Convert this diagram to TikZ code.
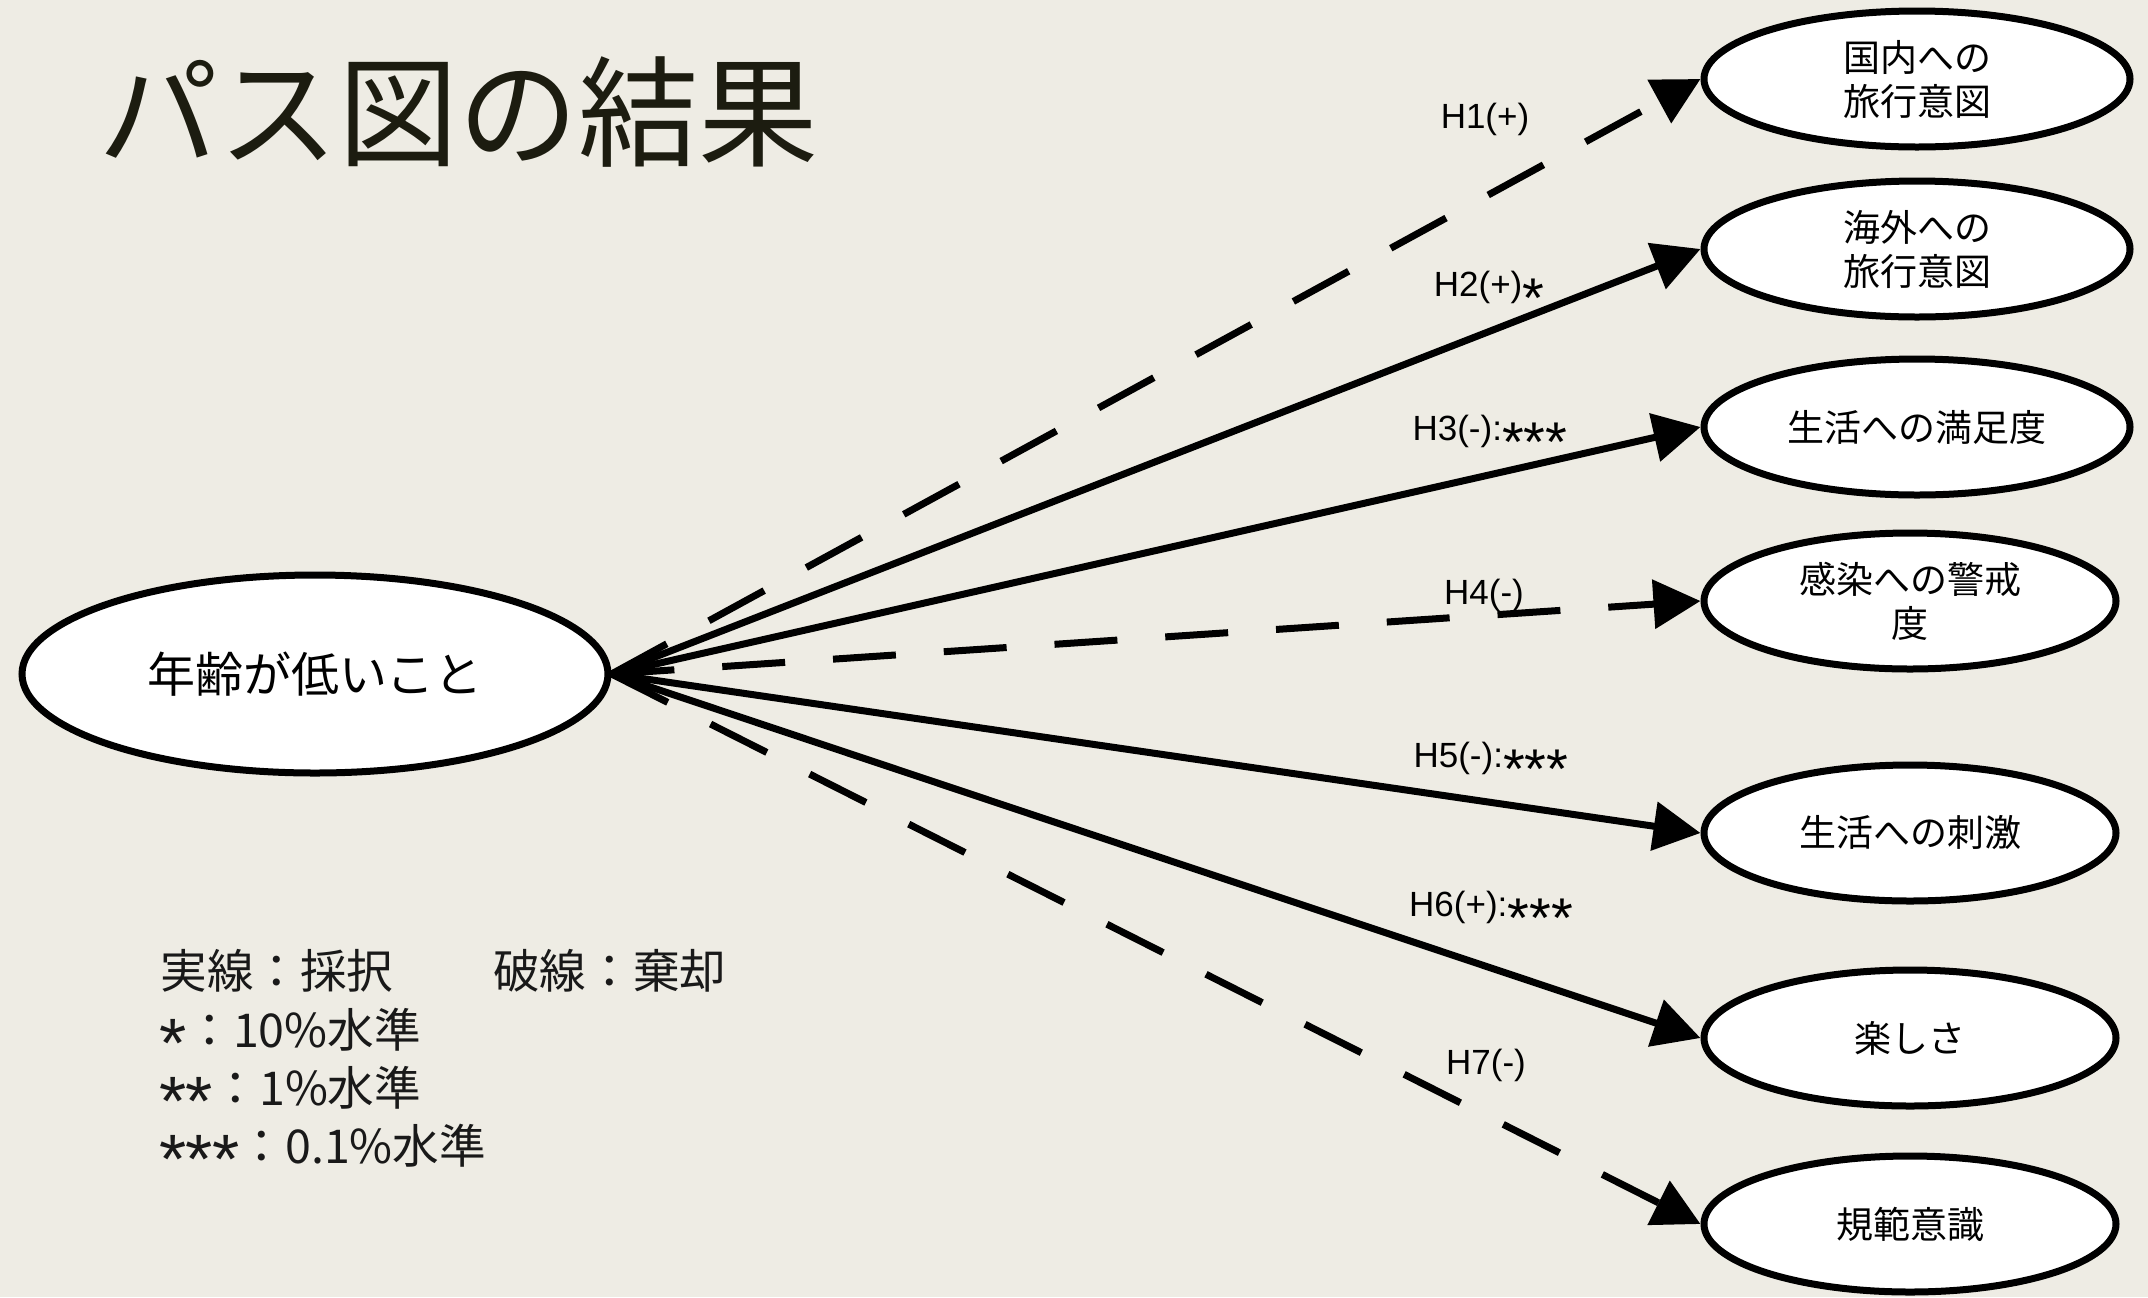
\documentclass[tikz,border=0pt]{standalone}
\usepackage{fontspec}
\usepackage{graphicx}
\setmainfont{Noto Sans CJK JP}
\newfontfamily\labfont{Liberation Sans}
\usetikzlibrary{shapes.geometric,arrows.meta}
\definecolor{bg}{HTML}{EEECE4}
\definecolor{titlec}{HTML}{1C1C10}
\newcommand\bigast{\smash{\raisebox{-0.62em}{\scalebox{1.6}{*}}}}
\newcommand\legast{\makebox[0.56em]{\labfont\smash{\raisebox{-0.43em}{\scalebox{1.5}{*}}}}}
\begin{document}
\begin{tikzpicture}[x=0.5pt,y=-0.5pt,
  oval/.style={ellipse, draw=black, fill=white, line width=3.5pt,
    minimum width=213pt, minimum height=68pt, inner sep=0pt, align=center,
    font=\fontsize{18.5}{22}\selectfont},
  ovalb/.style={oval, minimum width=206pt},
  conn/.style={line width=3.5pt, -{Triangle[length=23.5pt,width=24pt]}},
  rej/.style={conn, dash pattern=on 31.5pt off 24pt},
  lbl/.style={anchor=base, inner sep=0pt, font=\labfont\fontsize{17.5}{21}\selectfont},
  leg/.style={anchor=base west, inner sep=0pt, font=\fontsize{23.3}{28}\selectfont, text=black!90}]
\fill[bg] (0,0) rectangle (2148,1297);
\useasboundingbox (0,0) rectangle (2148,1297);

\node[anchor=base west, inner sep=0pt, text=titlec, font=\fontsize{60}{66}\selectfont] (title) at (98,157) {パス図の結果};

\node[oval, minimum width=293pt, minimum height=99pt, font=\fontsize{24}{28}\selectfont] (src) at (315,674) {年齢が低いこと};

\node[oval]  (n1) at (1917,79)   {国内への\\旅行意図};
\node[oval]  (n2) at (1917,249)  {海外への\\旅行意図};
\node[oval]  (n3) at (1917,427)  {生活への満足度};
\node[ovalb] (n4) at (1910,601)  {感染への警戒\\度};
\node[ovalb] (n5) at (1910,833)  {生活への刺激};
\node[ovalb] (n6) at (1910,1038) {楽しさ};
\node[ovalb] (n7) at (1910,1224) {規範意識};

\draw[rej]  (src.east) -- (n1.west);
\draw[conn] (src.east) -- (n2.west);
\draw[conn] (src.east) -- (n3.west);
\draw[rej]  (src.east) -- (n4.west);
\draw[conn] (src.east) -- (n5.west);
\draw[conn] (src.east) -- (n6.west);
\draw[rej]  (src.east) -- (n7.west);

\node[lbl] (l1) at (1485,128)  {H1(+)};
\node[lbl] (l2) at (1489,296)  {H2(+)\bigast};
\node[lbl] (l3) at (1490,440)  {H3(-):\bigast\bigast\bigast};
\node[lbl] (l4) at (1484,604)  {H4(-)};
\node[lbl] (l5) at (1491,767)  {H5(-):\bigast\bigast\bigast};
\node[lbl] (l6) at (1491,916)  {H6(+):\bigast\bigast\bigast};
\node[lbl] (l7) at (1486,1074) {H7(-)};

\node[leg] (g1) at (160,988)  {実線：採択\hspace{50pt}破線：棄却};
\node[leg] (g2) at (160,1047) {\legast：10\%水準};
\node[leg] (g3) at (160,1105) {\legast\legast：1\%水準};
\node[leg] (g4) at (160,1163) {\legast\legast\legast：0.1\%水準};
\end{tikzpicture}
\end{document}
